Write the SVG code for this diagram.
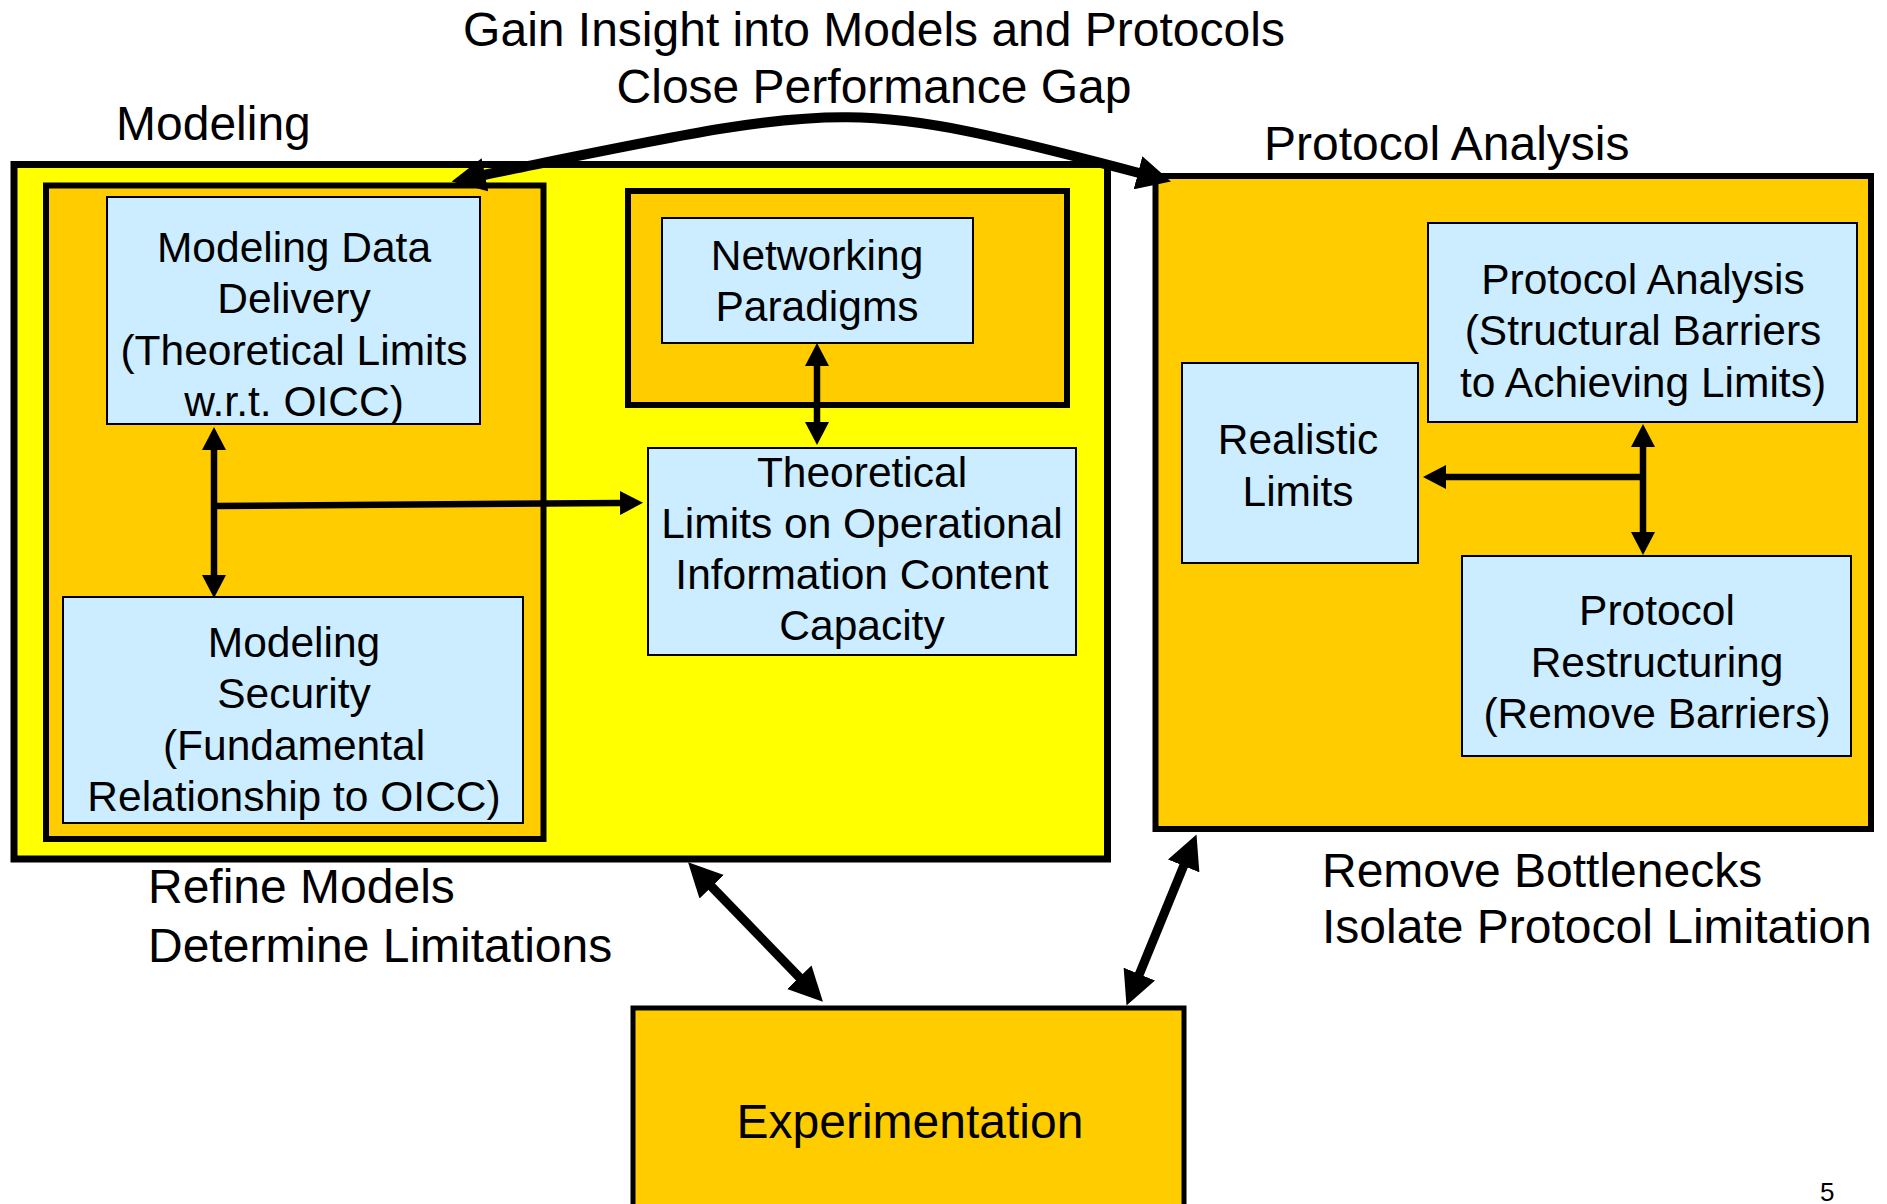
<svg xmlns="http://www.w3.org/2000/svg" width="1887" height="1204" viewBox="0 0 1887 1204">
  <style>
    text { font-family: "Liberation Sans", Arial, Helvetica, sans-serif; fill: #000; }
    .big { font-size: 48px; }
    .lbl { font-size: 42.5px; text-anchor: middle; }
    .yellow { fill: #FFFF00; stroke: #000; stroke-width: 7; }
    .orange { fill: #FFCC00; stroke: #000; stroke-width: 6; }
    .blue { fill: #CCECFF; stroke: #000; stroke-width: 2; }
    .thin { fill: none; stroke: #000; stroke-width: 6.5; marker-start: url(#headS); marker-end: url(#headS); }
    .thinEnd { fill: none; stroke: #000; stroke-width: 6.5; marker-end: url(#headS); }
    .thick { fill: none; stroke: #000; stroke-width: 9; marker-start: url(#headL); marker-end: url(#headL); }
    .curve { fill: none; stroke: #000; stroke-width: 10; marker-start: url(#headL); marker-end: url(#headL); }
  </style>
  <defs>
    <marker id="headS" markerUnits="userSpaceOnUse" viewBox="0 0 23 24" markerWidth="23" markerHeight="24" refX="1" refY="12" orient="auto-start-reverse">
      <path d="M0,0 L23,12 L0,24 Z" fill="#000"/>
    </marker>
    <marker id="headL" markerUnits="userSpaceOnUse" viewBox="0 0 34 34" markerWidth="34" markerHeight="34" refX="1" refY="17" orient="auto-start-reverse">
      <path d="M0,0 L34,17 L0,34 Z" fill="#000"/>
    </marker>
  </defs>

  <rect width="1887" height="1204" fill="#FFFFFF"/>

  <!-- Modeling area -->
  <g id="modeling">
    <rect class="yellow" x="14" y="164.5" width="1093.5" height="694.5"/>
  </g>
  <g id="modeling-core">
    <rect class="orange" x="46" y="185.5" width="497.5" height="653.5"/>
  </g>
  <g id="networking-frame">
    <rect class="orange" x="628" y="191" width="439" height="214"/>
  </g>
  <g id="data-delivery">
    <rect class="blue" x="107" y="197" width="373" height="227"/>
    <text class="lbl" x="294" y="262">Modeling Data</text>
    <text class="lbl" x="294" y="313">Delivery</text>
    <text class="lbl" x="294" y="365">(Theoretical Limits</text>
    <text class="lbl" x="294" y="416">w.r.t. OICC)</text>
  </g>
  <g id="networking">
    <rect class="blue" x="662" y="218" width="311" height="125"/>
    <text class="lbl" x="817" y="270">Networking</text>
    <text class="lbl" x="817" y="321">Paradigms</text>
  </g>
  <g id="theoretical-limits">
    <rect class="blue" x="648" y="448" width="428" height="207"/>
    <text class="lbl" x="862" y="487">Theoretical</text>
    <text class="lbl" x="862" y="538">Limits on Operational</text>
    <text class="lbl" x="862" y="589">Information Content</text>
    <text class="lbl" x="862" y="640">Capacity</text>
  </g>
  <g id="security">
    <rect class="blue" x="63" y="597" width="460" height="226"/>
    <text class="lbl" x="294" y="657">Modeling</text>
    <text class="lbl" x="294" y="708">Security</text>
    <text class="lbl" x="294" y="760">(Fundamental</text>
    <text class="lbl" x="294" y="811">Relationship to OICC)</text>
  </g>

  <!-- Protocol analysis area -->
  <g id="protocol">
    <rect class="orange" x="1155.5" y="176" width="715.5" height="653"/>
  </g>
  <g id="protocol-analysis">
    <rect class="blue" x="1428" y="223" width="429" height="199"/>
    <text class="lbl" x="1643" y="294">Protocol Analysis</text>
    <text class="lbl" x="1643" y="345">(Structural Barriers</text>
    <text class="lbl" x="1643" y="397">to Achieving Limits)</text>
  </g>
  <g id="realistic-limits">
    <rect class="blue" x="1182" y="363" width="236" height="200"/>
    <text class="lbl" x="1298" y="454">Realistic</text>
    <text class="lbl" x="1298" y="506">Limits</text>
  </g>
  <g id="restructuring">
    <rect class="blue" x="1462" y="556" width="389" height="200"/>
    <text class="lbl" x="1657" y="625">Protocol</text>
    <text class="lbl" x="1657" y="677">Restructuring</text>
    <text class="lbl" x="1657" y="728">(Remove Barriers)</text>
  </g>

  <!-- Experimentation -->
  <g id="experimentation">
    <rect class="orange" x="633" y="1008" width="551" height="220" style="stroke-width:5"/>
    <text class="big" x="910" y="1138" text-anchor="middle">Experimentation</text>
  </g>

  <!-- Connectors -->
  <g id="connectors">
    <path class="curve" d="M484,175 C844,102 842,95 1139,173"/>
    <path class="thin" d="M214,449 L214,576"/>
    <path class="thinEnd" d="M214,506 L621,503"/>
    <path class="thin" d="M817,365 L817,423"/>
    <path class="thin" d="M1643,446 L1643,533"/>
    <path class="thinEnd" d="M1643,477 L1445,477"/>
    <path class="thick" d="M711,886 L800,978"/>
    <path class="thick" d="M1184,865 L1139,975"/>
  </g>

  <!-- Captions -->
  <g id="captions">
    <text class="big" x="874" y="46" text-anchor="middle">Gain Insight into Models and Protocols</text>
    <text class="big" x="874" y="103" text-anchor="middle">Close Performance Gap</text>
    <text class="big" x="116" y="140">Modeling</text>
    <text class="big" x="1264" y="160">Protocol Analysis</text>
    <text class="big" x="148" y="903">Refine Models</text>
    <text class="big" x="148" y="962">Determine Limitations</text>
    <text class="big" x="1322" y="887">Remove Bottlenecks</text>
    <text class="big" x="1322" y="943">Isolate Protocol Limitation</text>
    <text x="1820" y="1201" style="font-size:26px">5</text>
  </g>
</svg>
